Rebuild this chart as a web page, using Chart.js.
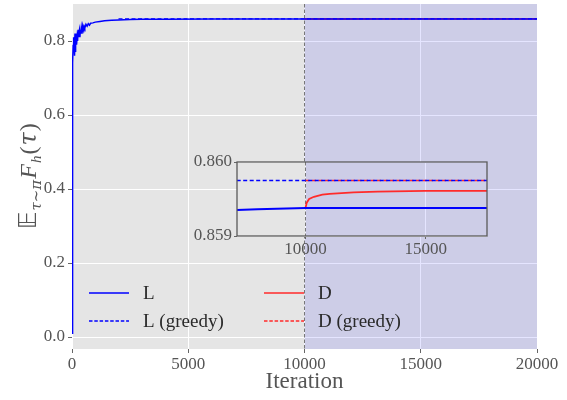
<!DOCTYPE html>
<html><head><meta charset="utf-8">
<script src="https://cdn.jsdelivr.net/npm/chart.js@4.4.0/dist/chart.umd.min.js"></script>
<style>
html,body{margin:0;padding:0;background:#fff;}
#wrap{position:relative;width:567px;height:400px;overflow:hidden;}
#main{position:absolute;left:0;top:0;}
#inset{position:absolute;left:170px;top:150px;}
</style></head><body>
<div id="wrap">
<canvas id="main" width="567" height="400"></canvas>
<canvas id="inset" width="330" height="110"></canvas>
</div>
<script>
// ---- data ----
const lIter = [0,10,20,30,40,50,60,70,80,90,100,110,120,130,140,150,160,170,180,190,200,220,240,260,280,300,320,340,360,380,400,430,460,490,520,550,600,650,700,750,800,900,1000,1200,1400,1700,2000,2500,3000,4000,6000,7000,8000,10000,12000,15000,20000];
const lValues = [0.01,0.30,0.55,0.68,0.74,0.79,0.77,0.81,0.78,0.80,0.76,0.81,0.79,0.82,0.77,0.80,0.78,0.81,0.80,0.82,0.79,0.81,0.80,0.83,0.81,0.82,0.83,0.81,0.83,0.82,0.835,0.82,0.84,0.83,0.84,0.835,0.845,0.84,0.847,0.843,0.848,0.849,0.851,0.853,0.855,0.856,0.857,0.858,0.8585,0.859,0.85932,0.85935,0.85936,0.85938,0.85938,0.85938,0.85938];
const lGreedyIter = [2000,20000];
const lGreedyValues = [0.85975,0.85975];
const dIter = [10000,10050,10150,10350,10700,11000,12000,13000,15000,20000];
const dValues = [0.85938,0.85945,0.85950,0.85953,0.85956,0.85957,0.85959,0.85960,0.85961,0.85961];
const dGreedyIter = [10000,20000];
const dGreedyValues = [0.85975,0.85975];
const seriesLabels = ['L','L (greedy)','D','D (greedy)'];
const xTicks = [0,5000,10000,15000,20000];
const yTicks = [0,0.2,0.4,0.6,0.8];
const insetXTicks = [10000,15000];
const insetYTicks = [0.859,0.860];
const switchIteration = 10000;

const BLUE = '#0000ff', RED = '#ff2a2a';
const pts = (xs, ys) => xs.map((x, i) => ({x: x, y: ys[i]}));
function makeDatasets(lw, dash) {
  return [
    {label: seriesLabels[0], data: pts(lIter, lValues), borderColor: BLUE, borderWidth: lw, pointRadius: 0, tension: 0},
    {label: seriesLabels[1], data: pts(lGreedyIter, lGreedyValues), borderColor: BLUE, borderWidth: lw*0.8, borderDash: dash, pointRadius: 0},
    {label: seriesLabels[2], data: pts(dIter, dValues), borderColor: RED, borderWidth: lw*0.9, pointRadius: 0, tension: 0},
    {label: seriesLabels[3], data: pts(dGreedyIter, dGreedyValues), borderColor: RED, borderWidth: lw*0.8, borderDash: dash, pointRadius: 0}
  ];
}

const bgPlugin = {
  id: 'bgspan',
  beforeDraw(chart) {
    const {ctx, chartArea: a} = chart;
    ctx.save(); ctx.fillStyle = '#e5e5e5'; ctx.fillRect(a.left, a.top, a.width, a.height); ctx.restore();
  },
  beforeDatasetsDraw(chart) {
    const {ctx, chartArea: a, scales: {x}} = chart;
    const px = x.getPixelForValue(switchIteration);
    ctx.save();
    ctx.fillStyle = 'rgba(0,0,255,0.1)';
    ctx.fillRect(px, a.top, a.right - px, a.height);
    ctx.strokeStyle = '#777'; ctx.lineWidth = 1; ctx.setLineDash([3.5, 2]);
    ctx.beginPath(); ctx.moveTo(px, a.top); ctx.lineTo(px, a.bottom); ctx.stroke();
    ctx.restore();
  }
};

const serif = 'Liberation Serif';
const tickFont = {family: serif, size: 17};

const legendPlugin = {
  id: 'legendCustom',
  afterDatasetsDraw(chart) {
    const {ctx} = chart;
    const ds = chart.data.datasets;
    const cols = [89, 264], rows = [293, 321];
    const order = [[0, 0], [1, 0], [0, 1], [1, 1]]; // [row, col] per dataset
    ctx.save();
    ds.forEach((d, i) => {
      const [r, c] = order[i];
      const x0 = cols[c], y0 = rows[r];
      ctx.strokeStyle = d.borderColor; ctx.lineWidth = 1.3;
      ctx.setLineDash(d.borderDash ? [3.5, 1.8] : []);
      ctx.beginPath(); ctx.moveTo(x0, y0); ctx.lineTo(x0 + 40, y0); ctx.stroke();
      ctx.setLineDash([]);
      ctx.fillStyle = '#2a2a2a'; ctx.font = '19px "' + serif + '"';
      ctx.textBaseline = 'middle';
      ctx.fillText(d.label, x0 + 54, y0 + 1);
    });
    ctx.restore();
  }
};

const yTitlePlugin = {
  id: 'ytitle',
  afterDraw(chart) {
    const ctx = chart.ctx;
    ctx.save();
    ctx.translate(36, 229);
    ctx.rotate(-Math.PI / 2);
    ctx.fillStyle = '#555';
    ctx.textBaseline = 'alphabetic';
    const big = 24, small = 15;
    const parts = [
      {t: '𝔼', f: big + 'px "DejaVu Sans"', dy: 0},
      {t: 'τ∼π', f: 'italic ' + small + 'px "DejaVu Serif"', dy: 5},
      {t: 'F', f: 'italic ' + big + 'px "' + serif + '"', dy: 0},
      {t: 'h', f: 'italic ' + small + 'px "' + serif + '"', dy: 5},
      {t: '(', f: big + 'px "' + serif + '"', dy: 0},
      {t: 'τ', f: 'italic ' + big + 'px "DejaVu Serif"', dy: 0},
      {t: ')', f: big + 'px "' + serif + '"', dy: 0}
    ];
    let x = 0;
    parts.forEach(p => { ctx.font = p.f; ctx.fillText(p.t, x, p.dy); x += ctx.measureText(p.t).width + 1; });
    ctx.restore();
  }
};

const noPad = s => { s.paddingTop = 0; s.paddingBottom = 0; s.paddingLeft = 0; s.paddingRight = 0; };

new Chart(document.getElementById('main'), {
  type: 'line',
  data: {datasets: makeDatasets(1.5, [4, 2.5])},
  options: {
    responsive: false, animation: false,
    layout: {padding: {left: 0, right: 30, top: 4, bottom: 0}},
    plugins: {legend: {display: false}, tooltip: {enabled: false}},
    scales: {
      x: {
        type: 'linear', min: 0, max: 20000,
        afterBuildTicks: s => { s.ticks = xTicks.map(v => ({value: v})); },
        afterFit: s => { s.height = 51; noPad(s); },
        grid: {color: '#ffffff', lineWidth: 1, tickColor: '#666', tickLength: 4},
        border: {display: false},
        ticks: {color: '#555', font: tickFont, padding: 1, maxRotation: 0, callback: v => String(v)},
        title: {display: true, text: 'Iteration', color: '#555', font: {family: serif, size: 23}, padding: {top: 0, bottom: 4}}
      },
      y: {
        type: 'linear', min: -0.0324, max: 0.9,
        afterBuildTicks: s => { s.ticks = yTicks.map(v => ({value: v})); },
        afterFit: s => { s.width = 72; noPad(s); },
        grid: {color: '#ffffff', lineWidth: 1, tickColor: '#666', tickLength: 4},
        border: {display: false},
        ticks: {color: '#555', font: tickFont, padding: 3, callback: v => v.toFixed(1)}
      }
    }
  },
  plugins: [bgPlugin, legendPlugin, yTitlePlugin]
});

const insetBorder = {
  id: 'insetBorder',
  afterDatasetsDraw(chart) {
    const {ctx, chartArea: a} = chart;
    ctx.save(); ctx.strokeStyle = '#5a5a5a'; ctx.lineWidth = 1.3;
    ctx.strokeRect(a.left, a.top, a.width, a.height); ctx.restore();
  }
};

new Chart(document.getElementById('inset'), {
  type: 'line',
  data: {datasets: makeDatasets(2, [4, 2.5])},
  options: {
    responsive: false, animation: false,
    layout: {padding: {left: 0, right: 13, top: 12, bottom: 0}},
    plugins: {legend: {display: false}, tooltip: {enabled: false}},
    scales: {
      x: {
        type: 'linear', min: 7150, max: 17550,
        afterBuildTicks: s => { s.ticks = insetXTicks.map(v => ({value: v})); },
        afterFit: s => { s.height = 24; noPad(s); },
        grid: {color: '#ffffff', lineWidth: 1, tickColor: '#666', tickLength: 3},
        border: {display: false},
        ticks: {color: '#555', font: tickFont, padding: 0, maxRotation: 0, callback: v => String(v)}
      },
      y: {
        type: 'linear', min: 0.859, max: 0.860,
        afterBuildTicks: s => { s.ticks = insetYTicks.map(v => ({value: v})); },
        afterFit: s => { s.width = 67; noPad(s); },
        grid: {color: '#ffffff', lineWidth: 1, tickColor: '#666', tickLength: 3},
        border: {display: false},
        ticks: {color: '#555', font: tickFont, padding: 2, callback: v => v.toFixed(3)}
      }
    }
  },
  plugins: [bgPlugin, insetBorder]
});
</script>
</body></html>
